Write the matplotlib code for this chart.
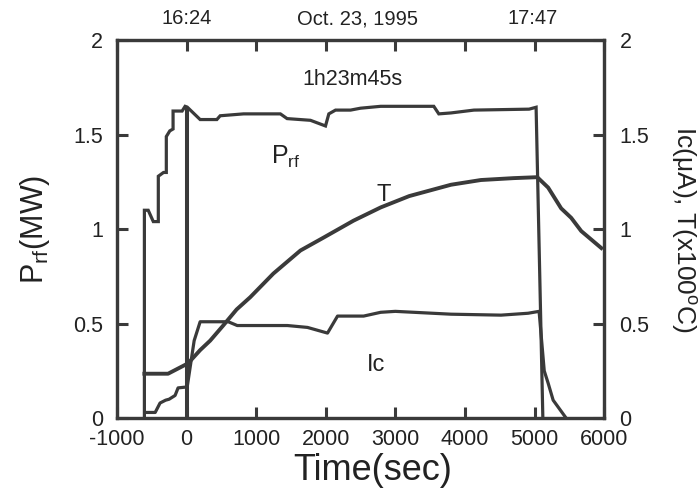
import matplotlib
matplotlib.use("Agg")
import matplotlib.pyplot as plt
from matplotlib.transforms import blended_transform_factory

plt.rcParams['font.family'] = ['Liberation Sans', 'DejaVu Sans']
plt.rcParams['mathtext.fontset'] = 'custom'
plt.rcParams['mathtext.rm'] = 'Liberation Sans'
plt.rcParams['mathtext.it'] = 'Liberation Sans'

# ---- data ----
prf_t = [-605, -605, -550, -477, -405, -405, -330, -290, -290, -240, -193, -193, -63, -20, 10,
         196, 436, 484, 820, 1349, 1445, 1781, 1997, 2045, 2141, 2357, 2500, 2790, 3553, 3625,
         3800, 4130, 4922, 5023, 5120]
prf_v = [0.0, 1.10, 1.10, 1.04, 1.04, 1.28, 1.30, 1.30, 1.49, 1.52, 1.53, 1.625, 1.625, 1.65, 1.646,
         1.58, 1.58, 1.60, 1.61, 1.61, 1.585, 1.576, 1.546, 1.61, 1.63, 1.63, 1.64, 1.65, 1.65, 1.61,
         1.615, 1.63, 1.635, 1.645, 0.0]

temp_t = [-605, -265, 23, 196, 340, 527, 720, 916, 1248, 1637, 1968, 2400, 2790, 3200, 3800,
          4230, 4700, 5040, 5196, 5383, 5527, 5671, 5960]
temp_v = [0.235, 0.235, 0.29, 0.36, 0.41, 0.49, 0.575, 0.64, 0.765, 0.887, 0.955, 1.045, 1.115,
          1.175, 1.235, 1.26, 1.27, 1.275, 1.22, 1.11, 1.06, 0.99, 0.90]

ic_t = [-600, -450, -380, -300, -250, -164, -121, 10, 110, 196, 600, 729, 1450, 1738, 2026, 2170,
        2545, 2790, 3000, 3800, 4519, 4908, 5066, 5140, 5196, 5268, 5455]
ic_v = [0.03, 0.03, 0.08, 0.095, 0.10, 0.12, 0.16, 0.165, 0.41, 0.51, 0.51, 0.49, 0.49, 0.48, 0.45,
        0.54, 0.54, 0.56, 0.565, 0.55, 0.545, 0.555, 0.565, 0.25, 0.185, 0.095, 0.0]

start_marker_t = [10]
start_marker_top = [1.646]

x_ticks = [-1000, 0, 1000, 2000, 3000, 4000, 5000, 6000]
y_ticks = [0, 0.5, 1, 1.5, 2]
y_ticklabels = ["0", "0.5", "1", "1.5", "2"]
top_labels = ["16:24", "Oct. 23, 1995", "17:47"]
top_label_t = [0, 2450, 4980]

line_c = '#3a3a3a'
text_c = '#222222'
lw = 2.3

fig = plt.figure(figsize=(7, 4.96), dpi=100)
ax = fig.add_axes([0.167, 0.157, 0.696, 0.762])

ax.plot(prf_t, prf_v, color=line_c, lw=lw, solid_joinstyle='miter')
ax.plot(temp_t, temp_v, color=line_c, lw=lw + 0.5)
ax.plot(ic_t, ic_v, color=line_c, lw=lw)
ax.vlines(start_marker_t, 0, start_marker_top, color=line_c, lw=lw + 0.6)

ax.set_xlim(-1000, 6000)
ax.set_ylim(0, 2)
ax.set_xticks(x_ticks)
ax.set_xticklabels([str(v) for v in x_ticks])
ax.set_yticks(y_ticks)
ax.set_yticklabels(y_ticklabels)
ax.tick_params(direction='in', length=8, width=2.2, colors=line_c, labelcolor=text_c,
               labelsize=15.5, top=True)
ax.tick_params(axis='x', pad=8)
ax.tick_params(axis='y', pad=10)

for s in ax.spines.values():
    s.set_linewidth(2.3)
    s.set_color(line_c)

ax2 = ax.twinx()
ax2.set_ylim(0, 2)
ax2.set_yticks(y_ticks)
ax2.set_yticklabels(y_ticklabels)
ax2.tick_params(direction='in', length=8, width=2.2, colors=line_c, labelcolor=text_c,
                labelsize=15.5, pad=11)
for s in ax2.spines.values():
    s.set_linewidth(2.3)
    s.set_color(line_c)

ax.set_xlabel('Time(sec)', fontsize=26, color=text_c, va='center', ha='center')
ax.xaxis.set_label_coords(0.524, -0.138)
ax.set_ylabel(r'$\mathregular{P_{rf}}$(MW)', fontsize=22, color=text_c, va='center', ha='center')
ax.yaxis.set_label_coords(-0.168, 0.5)
ax2.set_ylabel(r'Ic(μA), T(x100$\mathregular{^{o}}$C)', fontsize=19, color=text_c,
               rotation=270, va='center', ha='center')
ax2.yaxis.set_label_coords(1.163, 0.5)

trans = blended_transform_factory(ax.transData, ax.transAxes)
for lab, t in zip(top_labels, top_label_t):
    ax.text(t, 1.032, lab, transform=trans, ha='center', va='bottom', fontsize=14.5, color=text_c)

ax.text(2386, 1.79, '1h23m45s', ha='center', va='center', fontsize=15.5, color=text_c)
ax.text(1420, 1.38, r'$\mathregular{P_{rf}}$', ha='center', va='center', fontsize=18, color=text_c)
ax.text(2830, 1.18, 'T', ha='center', va='center', fontsize=17, color=text_c)
ax.text(2718, 0.28, 'Ic', ha='center', va='center', fontsize=17, color=text_c)

fig.savefig('out.png', dpi=100)
